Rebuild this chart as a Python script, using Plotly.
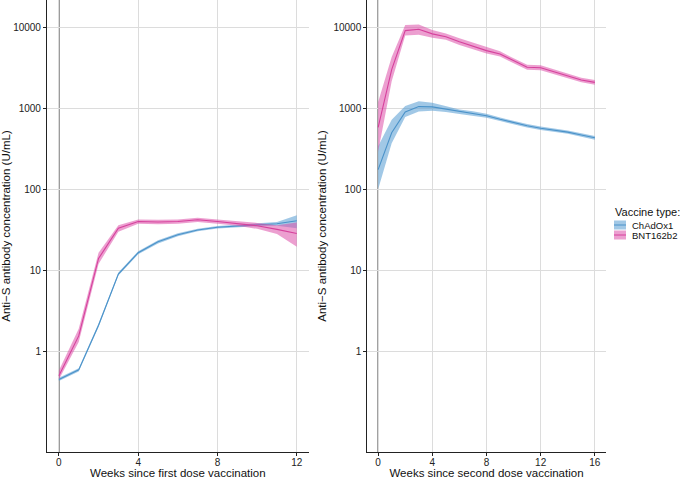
import plotly.graph_objects as go

# ---------------- data ----------------
weeks_first = list(range(0, 13))
weeks_second = list(range(0, 17))

chad_first = [0.45, 0.59, 2.1, 9.0, 16.5, 22.5, 27.5, 31.5, 34, 35.5, 36.5, 37.5, 41]
chad_first_lo = [0.43, 0.565, 2.0, 8.6, 15.8, 21.5, 26.4, 30.3, 32.8, 34.2, 35.0, 35.5, 33]
chad_first_hi = [0.47, 0.62, 2.2, 9.4, 17.2, 23.5, 28.6, 32.7, 35.2, 36.8, 38.0, 39.5, 48]

bnt_first = [0.5, 1.55, 14, 33, 40, 39.5, 40, 42, 40, 38, 35.5, 32, 28.5]
bnt_first_lo = [0.45, 1.3, 12, 30, 37.5, 37, 37.5, 39.5, 37.5, 35.5, 32.5, 28, 19.5]
bnt_first_hi = [0.58, 1.9, 16.5, 36, 42.5, 42, 42.5, 44.5, 42.5, 40.5, 38.5, 36, 39]

chad_second = [175, 500, 900, 1050, 1040, 975, 905, 865, 808, 731, 665, 610, 566, 540, 508, 468, 432]
chad_second_lo = [100, 370, 780, 910, 930, 900, 850, 815, 765, 695, 630, 580, 540, 515, 485, 445, 410]
chad_second_hi = [340, 720, 1070, 1220, 1170, 1060, 965, 920, 855, 770, 700, 640, 595, 568, 533, 492, 455]

bnt_second = [580, 3000, 9100, 9450, 8300, 7650, 6650, 5900, 5150, 4680, 3870, 3210, 3170, 2830, 2500, 2240, 2090]
bnt_second_lo = [290, 2150, 7900, 8100, 7450, 7000, 6050, 5400, 4750, 4350, 3600, 3000, 2950, 2640, 2340, 2100, 1960]
bnt_second_hi = [1200, 4300, 10700, 10800, 9250, 8400, 7300, 6450, 5600, 5050, 4150, 3450, 3400, 3030, 2670, 2390, 2230]

vaccines = ["ChAdOx1", "BNT162b2"]
legend_title = "Vaccine type:"
y_ticks = [1, 10, 100, 1000, 10000]
y_tick_labels = ["1", "10", "100", "1000", "10000"]
x_ticks_first = [0, 4, 8, 12]
x_ticks_second = [0, 4, 8, 12, 16]
reference_week = 0

# ---------------- style ----------------
line_col = {"ChAdOx1": "#4A92C9", "BNT162b2": "#D6419C"}
fill_col = {"ChAdOx1": "rgba(84,155,210,0.55)", "BNT162b2": "rgba(220,80,170,0.55)"}
FONT = "Liberation Sans, Arial, Helvetica, sans-serif"
W, H = 685, 479

fig = go.Figure()

panels = [
    ("x", "y", weeks_first, {"ChAdOx1": (chad_first, chad_first_lo, chad_first_hi),
                             "BNT162b2": (bnt_first, bnt_first_lo, bnt_first_hi)}),
    ("x2", "y2", weeks_second, {"ChAdOx1": (chad_second, chad_second_lo, chad_second_hi),
                                "BNT162b2": (bnt_second, bnt_second_lo, bnt_second_hi)}),
]

for pi, (xa, ya, wk, series) in enumerate(panels):
    for v in vaccines:
        mid, lo, hi = series[v]
        fig.add_trace(go.Scatter(x=wk, y=lo, xaxis=xa, yaxis=ya, mode="lines",
                                 line=dict(width=0, color=line_col[v]), showlegend=False,
                                 hoverinfo="skip"))
        fig.add_trace(go.Scatter(x=wk, y=hi, xaxis=xa, yaxis=ya, mode="lines",
                                 line=dict(width=0, color=line_col[v]), fill="tonexty",
                                 fillcolor=fill_col[v], name=v, showlegend=False, hoverinfo="skip"))
        fig.add_trace(go.Scatter(x=wk, y=mid, xaxis=xa, yaxis=ya, mode="lines",
                                 line=dict(width=1.1, color=line_col[v]), showlegend=False, name=v))

# ---------------- custom legend (paper coordinates) ----------------
def px_x(p):
    return p / W

def px_y(p):
    return 1 - p / H

shapes = [
    dict(type="line", xref="x", yref="y domain", x0=reference_week, x1=reference_week, y0=0, y1=1,
         line=dict(color="#666666", width=1.5), layer="below"),
    dict(type="line", xref="x2", yref="y2 domain", x0=reference_week, x1=reference_week, y0=0, y1=1,
         line=dict(color="#666666", width=1.5), layer="below"),
]
annotations = [dict(text=legend_title, xref="paper", yref="paper", x=px_x(613), y=px_y(212),
                    xanchor="left", yanchor="middle", showarrow=False,
                    font=dict(family=FONT, size=11, color="#111111"))]
key_left, key_w, key_h, key_top = 614, 12, 10, 220
for i, v in enumerate(vaccines):
    t = key_top + i * key_h
    shapes.append(dict(type="rect", xref="paper", yref="paper",
                       x0=px_x(key_left), x1=px_x(key_left + key_w), y0=px_y(t + key_h - 0.5), y1=px_y(t + 0.5),
                       fillcolor=fill_col[v], line=dict(width=0)))
    shapes.append(dict(type="line", xref="paper", yref="paper",
                       x0=px_x(key_left), x1=px_x(key_left + key_w), y0=px_y(t + key_h / 2), y1=px_y(t + key_h / 2),
                       line=dict(color=line_col[v], width=1)))
    annotations.append(dict(text=v, xref="paper", yref="paper", x=px_x(key_left + key_w + 4),
                            y=px_y(t + key_h / 2), xanchor="left", yanchor="middle", showarrow=False,
                            font=dict(family=FONT, size=9.5, color="#111111")))

ytop_log, ybot_log = 4.337, -1.243
y_dom = [1 - 452 / H, 1.0]

common_y = dict(type="log", range=[ybot_log, ytop_log], tickvals=y_ticks, ticktext=y_tick_labels,
                showgrid=True, gridcolor="#DCDCDC", gridwidth=0.8, showline=True,
                linecolor="#222222", linewidth=1.1, ticks="outside", ticklen=3, tickcolor="#222222",
                tickfont=dict(family=FONT, size=10, color="#222222"), zeroline=False,
                automargin=False, domain=y_dom,
                title=dict(text="Anti−S antibody concentration (U/mL)",
                           font=dict(family=FONT, size=11.5, color="#111111"), standoff=4))
common_x = dict(showgrid=True, gridcolor="#DCDCDC", gridwidth=0.8, showline=True,
                linecolor="#222222", linewidth=1.1, ticks="outside", ticklen=3, tickcolor="#222222",
                tickfont=dict(family=FONT, size=10, color="#222222"), zeroline=False,
                automargin=False, ticklabelstandoff=-2)

fig.update_layout(
    width=W, height=H, template="none",
    margin=dict(l=0, r=0, t=0, b=0, pad=0),
    paper_bgcolor="white", plot_bgcolor="white",
    showlegend=False,
    xaxis=dict(common_x, domain=[47 / W, 308.7 / W], range=[-0.6, 12.6], tickvals=x_ticks_first,
               anchor="y",
               title=dict(text="Weeks since first dose vaccination",
                          font=dict(family=FONT, size=11.5, color="#111111"), standoff=6)),
    xaxis2=dict(common_x, domain=[367.3 / W, 605.7 / W], range=[-0.8, 16.8], tickvals=x_ticks_second,
                anchor="y2",
                title=dict(text="Weeks since second dose vaccination",
                           font=dict(family=FONT, size=11.5, color="#111111"), standoff=6)),
    yaxis=dict(common_y, anchor="x"),
    yaxis2=dict(common_y, anchor="x2"),
    shapes=shapes,
    annotations=annotations,
)

fig.write_html("out.html", config={"displayModeBar": False},
               post_script="document.body.style.margin='0';document.body.style.overflow='hidden';")
